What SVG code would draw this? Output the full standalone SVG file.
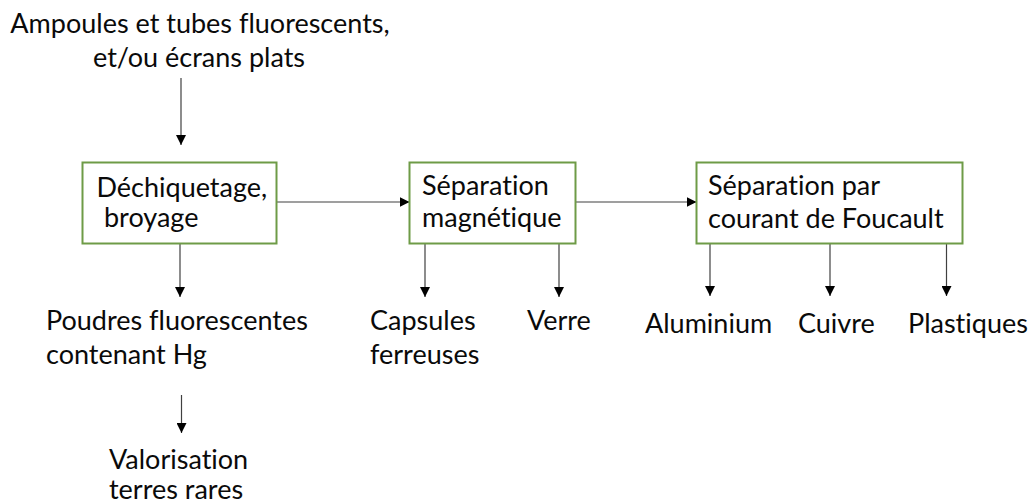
<svg xmlns="http://www.w3.org/2000/svg" width="1032" height="504" viewBox="0 0 1032 504">
  <defs>
    <marker id="head" viewBox="0 0 10 10" refX="10" refY="5" markerWidth="10" markerHeight="10" markerUnits="userSpaceOnUse" orient="auto">
      <path d="M0,0 L10,5 L0,10 Z" fill="#000"/>
    </marker>
    <style>
      .box { fill: #fff; stroke: #6E9B47; stroke-width: 2; }
      .lbl { font-family: Lato, "Liberation Sans", sans-serif; font-size: 27px; fill: #0a0a0a; font-variant-ligatures: none; }
      .link { fill: none; stroke: #404040; stroke-width: 1.2; marker-end: url(#head); }
    </style>
  </defs>
  <rect width="1032" height="504" fill="#fff"/>

  <!-- flow connectors -->
  <g id="connectors">
    <line class="link" x1="181" y1="78" x2="181" y2="145"/>
    <line class="link" x1="276.5" y1="202" x2="409.5" y2="202"/>
    <line class="link" x1="575.5" y1="202" x2="696.5" y2="202"/>
    <line class="link" x1="180" y1="244" x2="180" y2="297"/>
    <line class="link" x1="181.5" y1="395" x2="181.5" y2="433"/>
    <line class="link" x1="425" y1="244" x2="425" y2="297"/>
    <line class="link" x1="559" y1="244" x2="559" y2="297"/>
    <line class="link" x1="710" y1="244" x2="710" y2="296"/>
    <line class="link" x1="830" y1="244" x2="830" y2="296"/>
    <line class="link" x1="946.5" y1="244" x2="946.5" y2="296"/>
  </g>

  <!-- input -->
  <g id="input">
    <text class="lbl" x="200" y="33" text-anchor="middle">Ampoules et tubes fluorescents,</text>
    <text class="lbl" x="199" y="67" text-anchor="middle">et/ou écrans plats</text>
  </g>

  <!-- process steps -->
  <g id="shredding">
    <rect class="box" x="82.5" y="162.5" width="194" height="81"/>
    <text class="lbl" x="96.5" y="197">Déchiquetage,</text>
    <text class="lbl" x="104" y="227">broyage</text>
  </g>
  <g id="magnetic">
    <rect class="box" x="409.5" y="162.5" width="166" height="81"/>
    <text class="lbl" x="422" y="195">Séparation</text>
    <text class="lbl" x="422" y="227">magnétique</text>
  </g>
  <g id="eddy">
    <rect class="box" x="696.5" y="162.5" width="266" height="81"/>
    <text class="lbl" x="708" y="195">Séparation par</text>
    <text class="lbl" x="708" y="228">courant de Foucault</text>
  </g>

  <!-- outputs -->
  <g id="powders">
    <text class="lbl" x="46" y="330">Poudres fluorescentes</text>
    <text class="lbl" x="46" y="364">contenant Hg</text>
  </g>
  <g id="rare-earths">
    <text class="lbl" x="109" y="469">Valorisation</text>
    <text class="lbl" x="109" y="499">terres rares</text>
  </g>
  <g id="ferrous">
    <text class="lbl" x="370" y="330">Capsules</text>
    <text class="lbl" x="370" y="364">ferreuses</text>
  </g>
  <g id="glass">
    <text class="lbl" x="527" y="330">Verre</text>
  </g>
  <g id="aluminium">
    <text class="lbl" x="645" y="333">Aluminium</text>
  </g>
  <g id="copper">
    <text class="lbl" x="798" y="333">Cuivre</text>
  </g>
  <g id="plastics">
    <text class="lbl" x="908" y="333">Plastiques</text>
  </g>
</svg>
